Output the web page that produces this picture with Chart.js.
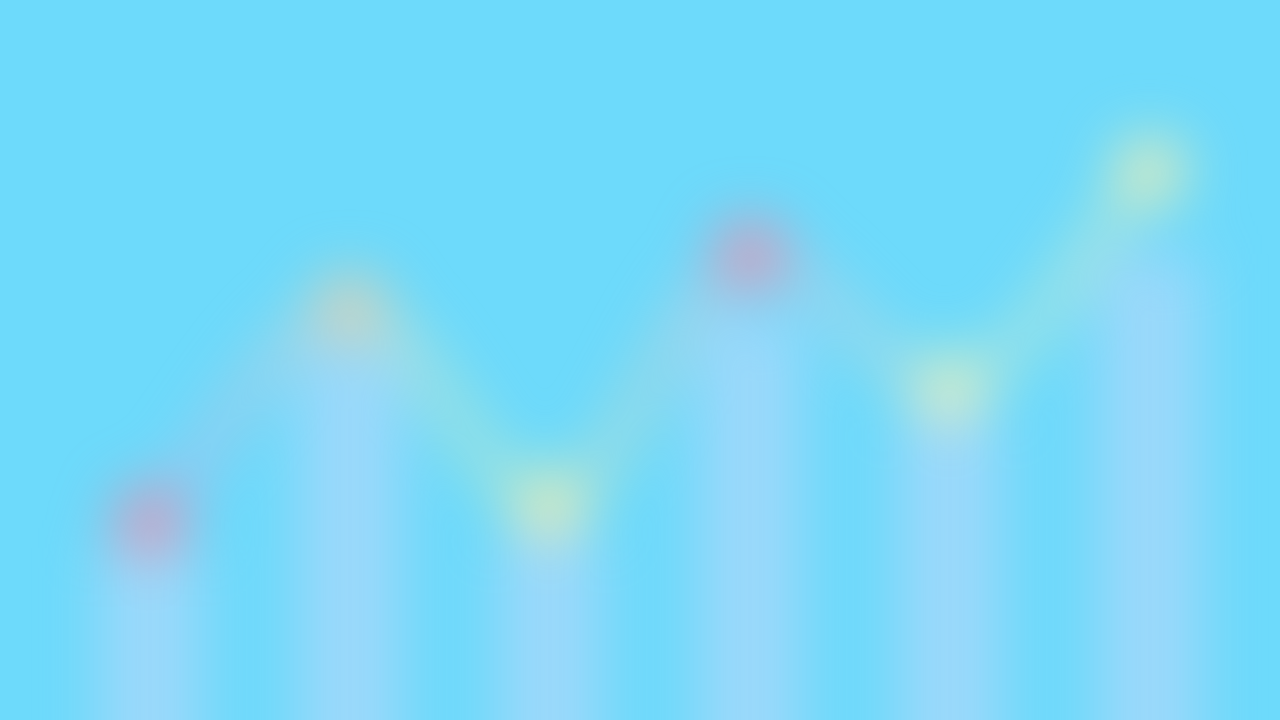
<!DOCTYPE html>
<html>
<head>
<meta charset="utf-8">
<script src="https://cdn.jsdelivr.net/npm/chart.js@4"></script>
<style>
  html, body { margin: 0; padding: 0; background: #6ddafb; overflow: hidden; }
  #wrap { width: 1280px; height: 720px; position: relative; overflow: hidden; }
  #chart { position: absolute; left: -60px; top: -60px; filter: blur(30px); }
</style>
</head>
<body>
<div id="wrap"><canvas id="chart" width="1400" height="880"></canvas></div>
<script>
const labels = ['1', '2', '3', '4', '5', '6'];
const barValues = [22, 52, 24, 57, 42, 66];
const lineValues = [26, 58, 28.5, 66, 46, 78.5];
const pointColors = ['#ea8cae', '#eccfac', '#f8efac', '#ee8cac', '#f0f2b8', '#f8f0b0'];
const lineColors = ['rgba(195,165,235,0.85)', 'rgba(225,228,195,0.9)', 'rgba(235,242,170,0.9)',
                    'rgba(210,185,225,0.85)', 'rgba(228,238,200,0.9)', 'rgba(235,242,185,0.9)'];

function lineGradient(context) {
    const area = context.chart.chartArea;
    if (!area) return lineColors[1];
    const g = context.chart.ctx.createLinearGradient(area.left, 0, area.right, 0);
    lineColors.forEach((c, i) => g.addColorStop((i + 0.5) / lineColors.length, c));
    return g;
}

new Chart(document.getElementById('chart'), {
    data: {
        labels: labels,
        datasets: [{
            type: 'line',
            data: lineValues,
            borderColor: lineGradient,
            borderWidth: 18,
            tension: 0.35,
            pointRadius: 32,
            pointBorderWidth: 0,
            pointBackgroundColor: pointColors,
            order: 0,
        }, {
            type: 'bar',
            data: barValues,
            base: -14,
            backgroundColor: 'rgba(195, 215, 250, 0.55)',
            barThickness: 100,
            order: 1,
        }],
    },
    options: {
        responsive: false,
        animation: false,
        layout: { padding: { left: 110, right: 90, top: 0, bottom: 0 } },
        plugins: { legend: { display: false }, tooltip: { enabled: false } },
        scales: {
            x: { display: false },
            y: { display: false, min: -13.89, max: 108.33 },
        },
    },
});
</script>
</body>
</html>
